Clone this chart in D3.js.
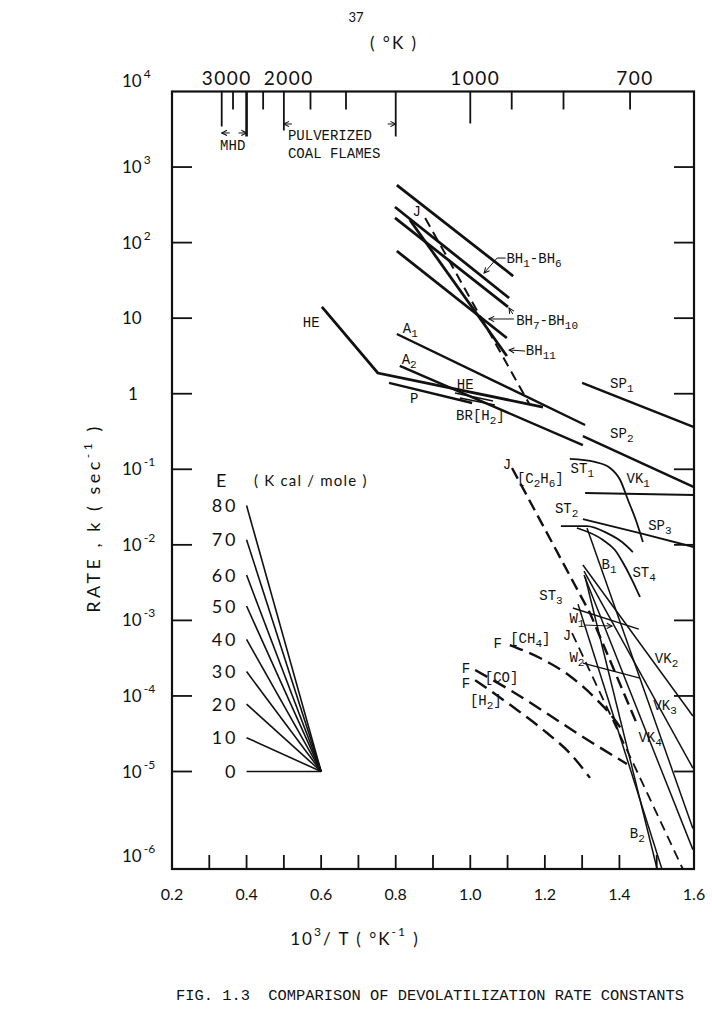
<!DOCTYPE html>
<html>
<head>
<meta charset="utf-8">
<script src="https://cdn.jsdelivr.net/npm/d3@7"></script>
<style>
  body { margin: 0; background: #fff; }
  text { fill: #111; }
  .tw { font-family: "Liberation Mono", "DejaVu Sans Mono", monospace; font-size: 14px; }
  .rd { font-family: Lato, "DejaVu Sans", sans-serif; }
</style>
</head>
<body>
<svg id="chart" width="712" height="1009"></svg>
<script>
// ---- data (x = 10^3/T, k = rate in 1/s) ----
const xTickLabels = ["0.2", "0.4", "0.6", "0.8", "1.0", "1.2", "1.4", "1.6"];
const xTickValues = [0.2, 0.4, 0.6, 0.8, 1.0, 1.2, 1.4, 1.6];
const xMinorTicks = [0.3, 0.4, 0.5, 0.6, 0.7, 0.8, 0.9, 1.0, 1.1, 1.2, 1.3, 1.4, 1.5];
const yDecades = [4, 3, 2, 1, 0, -1, -2, -3, -4, -5, -6];
const topTemps = [3000, 2750, 2500, 2250, 2000, 1750, 1500, 1250, 1000, 900, 800, 700];
const topTempLabels = [3000, 2000, 1000, 700];

// activation energy fan, all meeting at (0.6, 1e-5)
const fanEnergies = [80, 70, 60, 50, 40, 30, 20, 10, 0];
const fanStartK = [0.0331, 0.0117, 0.00398, 0.00155, 5.6e-4, 2.1e-4, 7.8e-5, 2.8e-5, 1e-5];
const fanStartX = 0.4;
const fanEnd = [0.6, 1e-5];

// solid heavy lines
const bh1to6 = [[0.803, 578], [1.115, 36.1]];
const bh1to6b = [[0.798, 296], [1.104, 18.5]];
const bh7to10 = [[0.798, 212], [1.101, 14.1]];
const bh7to10b = [[0.803, 77.4], [1.098, 5.46]];
const bh11 = [[0.838, 199], [1.098, 3.16]];
const heLine = [[0.602, 14.1], [0.752, 1.88], [1.195, 0.667]];
const a1Line = [[0.803, 6.17], [1.308, 0.386]];
const a2Line = [[0.811, 2.33], [1.302, 0.209]];
const pLine = [[0.782, 1.39], [1.005, 0.753]];
const heShortA = [[0.959, 1.02], [1.061, 0.80]];
const heShortB = [[0.972, 0.877], [1.066, 0.708]];
const sp1 = [[1.300, 1.39], [1.600, 0.362]];
const sp2 = [[1.302, 0.275], [1.600, 0.0582]];

// lighter solid lines, lower right
const sp3 = [[1.302, 0.0219], [1.455, 0.0143], [1.600, 0.00935]];
const vk1 = [[1.308, 0.0485], [1.600, 0.0456]];
const st1 = [[1.267, 0.137], [1.334, 0.125], [1.375, 0.104], [1.402, 0.0721], [1.423, 0.0392], [1.444, 0.0213], [1.463, 0.0109]];
const st2 = [[1.243, 0.0177], [1.313, 0.0177], [1.367, 0.0143], [1.407, 0.0109], [1.436, 0.00803]];
const st4 = [[1.286, 0.0167], [1.356, 0.0116], [1.388, 0.00853], [1.410, 0.00574], [1.434, 0.00342], [1.455, 0.00204]];
const st3 = [[1.275, 1.46e-3], [1.452, 7.67e-4]];
const b1 = [[1.313, 0.0167], [1.597, 2.6e-6]];
const vk2 = [[1.302, 0.0054], [1.597, 5.42e-5]];
const vk3 = [[1.305, 0.0045], [1.597, 1.11e-5]];
const vk4 = [[1.305, 0.00398], [1.597, 1.58e-6]];
const b2 = [[1.308, 0.00375], [1.501, 1e-6]];
const b2b = [[1.289, 1.64e-3], [1.514, 1e-6]];
const w2 = [[1.302, 2.72e-4], [1.455, 1.72e-4]];

// dashed lines
const jTop = [[0.879, 212], [1.160, 0.708]];
const jC2H6 = [[1.112, 0.104], [1.321, 1.25e-3], [1.447, 4.24e-5]];
const jLow = [[1.273, 6.79e-4], [1.570, 1e-6]];
const fCH4 = [[1.106, 4.72e-4], [1.187, 3.18e-4], [1.267, 1.84e-4], [1.340, 8.83e-5], [1.388, 4.8e-5], [1.407, 3.53e-5]];
const fCO = [[1.013, 2.2e-4], [1.106, 1.2e-4], [1.200, 6.12e-5], [1.294, 3.04e-5], [1.420, 1.26e-5]];
const fH2 = [[1.013, 1.62e-4], [1.115, 7.13e-5], [1.206, 3.23e-5], [1.267, 1.75e-5], [1.321, 8.6e-6]];

// line labels: text ("_n" = subscript), x, k
const lineLabels = [
  ["HE", 0.551, 7.64], ["A_1", 0.819, 6.46], ["A_2", 0.816, 2.47], ["HE", 0.964, 1.154],
  ["P", 0.838, 0.753], ["BR[H_2]", 0.962, 0.449], ["J", 0.845, 227],
  ["BH_1-BH_6", 1.097, 54.2], ["BH_7-BH_10", 1.123, 8.11], ["BH_11", 1.149, 3.25],
  ["SP_1", 1.375, 1.18], ["SP_2", 1.375, 0.257], ["J", 1.087, 0.1007], ["[C_2H_6]", 1.125, 0.0664],
  ["ST_1", 1.269, 0.0885], ["VK_1", 1.419, 0.0652], ["ST_2", 1.227, 0.0261], ["SP_3", 1.477, 0.0157],
  ["B_1", 1.352, 0.00474], ["ST_4", 1.435, 0.00378], ["ST_3", 1.185, 0.00186], ["W_1", 1.266, 9.14e-4],
  ["J", 1.248, 5.5e-4], ["W_2", 1.266, 2.84e-4], ["VK_2", 1.495, 2.7e-4], ["VK_3", 1.491, 6.5e-5],
  ["VK_4", 1.451, 2.48e-5], ["B_2", 1.428, 2.1e-6], ["F", 1.062, 4.35e-4], ["[CH_4]", 1.107, 5.06e-4],
  ["F", 0.977, 2.03e-4], ["[CO]", 1.039, 1.54e-4], ["F", 0.977, 1.26e-4], ["[H_2]", 0.999, 7.57e-5]
];
// leader arrows: list of points, arrowhead at the last one
const leaders = [
  [[1.095, 62.5], [1.072, 62.5], [1.037, 39.6]],
  [[1.117, 9.75], [1.050, 9.75]],
  [[1.114, 11.35], [1.104, 13.6]],
  [[1.147, 3.67], [1.104, 3.79]],
  [[1.308, 8.67e-4], [1.380, 8.42e-4]]
];

// ---- scales ----
const svg = d3.select("#chart");
const x = d3.scaleLinear().domain([0.2, 1.6]).range([172, 694]);
// the bottom decade of the drafted sheet is stretched down to the frame
const y = d3.scaleLog().domain([1e-6, 1e-5, 1e4]).range([869, 771.5, 91.5]);
const x0 = x(0.2), x1 = x(1.6), y0 = y(1e-6), y1 = y(1e4);

svg.append("defs").append("marker")
  .attr("id", "arr").attr("viewBox", "0 0 8 8").attr("refX", 7).attr("refY", 4)
  .attr("markerWidth", 7).attr("markerHeight", 7).attr("orient", "auto")
  .attr("markerUnits", "userSpaceOnUse")
  .append("path").attr("d", "M1,1 L7,4 L1,7").attr("fill", "none")
  .attr("stroke", "#111").attr("stroke-width", 1.2);

// frame
svg.append("rect").attr("x", x0).attr("y", y1).attr("width", x1 - x0).attr("height", y0 - y1)
  .attr("fill", "none").attr("stroke", "#111").attr("stroke-width", 2.2);

// y ticks, both sides
const yt = svg.append("g").attr("stroke", "#111").attr("stroke-width", 1.8);
yDecades.filter(d => d > -6 && d < 4).forEach(d => {
  const py = y(Math.pow(10, d));
  yt.append("line").attr("x1", x0).attr("x2", x0 + 20).attr("y1", py).attr("y2", py);
  yt.append("line").attr("x1", x1 - 20).attr("x2", x1).attr("y1", py).attr("y2", py);
});
yDecades.forEach(d => {
  let py = y(Math.pow(10, d)) + 6;
  if (d === 4) py -= 11;
  if (d === -6) py -= 13;
  const t = svg.append("text").attr("class", "rd").attr("font-size", 17)
    .attr("x", d === 0 ? 128 : 122).attr("y", py);
  if (d === 0) { t.text("1"); return; }
  t.append("tspan").text("10");
  if (d !== 1) t.append("tspan").attr("font-size", 12).attr("dy", -9).attr("dx", 2)
    .text(d < 0 ? "-" + (-d) : String(d));
});

// bottom ticks and labels
xMinorTicks.forEach(v => {
  svg.append("line").attr("x1", x(v)).attr("x2", x(v)).attr("y1", y0).attr("y2", y0 - 14)
    .attr("stroke", "#111").attr("stroke-width", 1.8);
});
xTickValues.forEach((v, i) => {
  svg.append("text").attr("class", "rd").attr("font-size", 16).attr("text-anchor", "middle")
    .attr("x", x(v)).attr("y", y0 + 31).text(xTickLabels[i]);
});

// top temperature ticks
const longTick = { 3000: 35, 2500: 45, 2000: 39, 1250: 45, 1000: 32 };
topTemps.forEach(T => {
  const px = x(1000 / T);
  svg.append("line").attr("x1", px).attr("x2", px).attr("y1", y1).attr("y2", y1 + (longTick[T] || 18))
    .attr("stroke", "#111").attr("stroke-width", T === 2500 ? 2.6 : 1.8);
});
topTempLabels.forEach(T => {
  svg.append("text").attr("class", "rd").attr("font-size", 19).attr("letter-spacing", 1.5)
    .attr("text-anchor", "middle").attr("x", x(1000 / T) + 5).attr("y", 85).text(T);
});

// MHD / pulverized coal flames ranges
const rangeArrow = (T, dir, k) => {
  const px = x(1000 / T), py = y(k);
  svg.append("line").attr("x1", px - dir * 8).attr("x2", px).attr("y1", py).attr("y2", py)
    .attr("stroke", "#111").attr("stroke-width", 1).attr("marker-end", "url(#arr)");
};
rangeArrow(3000, -1, 2826); rangeArrow(2500, 1, 2826);
rangeArrow(2000, -1, 3715); rangeArrow(1250, 1, 3715);
const small = (s, lx, lk) => svg.append("text").attr("class", "tw").attr("font-size", 11)
  .attr("x", x(lx)).attr("y", y(lk)).text(s);
small("MHD", 0.329, 1683);
small("PULVERIZED", 0.511, 2280);
small("COAL FLAMES", 0.511, 1318);

// data lines
const straight = d3.line().x(d => x(d[0])).y(d => y(d[1]));
const smooth = d3.line().curve(d3.curveMonotoneX).x(d => x(d[0])).y(d => y(d[1]));
function draw(data, w, dash, gen) {
  svg.append("path").datum(data).attr("d", gen || straight)
    .attr("fill", "none").attr("stroke", "#111").attr("stroke-width", w)
    .attr("stroke-dasharray", dash || null);
}
[bh1to6, bh1to6b, bh7to10, bh7to10b, bh11, heLine].forEach(d => draw(d, 2.8));
[a1Line, a2Line, pLine, sp1, sp2].forEach(d => draw(d, 2.4));
[heShortA, heShortB].forEach(d => draw(d, 1.6));
[sp3, vk1].forEach(d => draw(d, 2.0, null, smooth));
[st1, st2, st4].forEach(d => draw(d, 1.8, null, smooth));
[st3, b1, vk2, vk3, vk4, b2, b2b, w2].forEach(d => draw(d, 1.5));
draw(jTop, 2.0, "10,6");
draw(jC2H6, 2.4, "12,6");
draw(jLow, 1.8, "10,6");
[fCH4, fCO, fH2].forEach(d => draw(d, 2.4, "14,7", smooth));

// energy fan
fanEnergies.forEach((E, i) => {
  svg.append("line").attr("x1", x(fanStartX)).attr("y1", y(fanStartK[i]))
    .attr("x2", x(fanEnd[0])).attr("y2", y(fanEnd[1]))
    .attr("stroke", "#111").attr("stroke-width", 1.6);
  svg.append("text").attr("class", "rd").attr("font-size", 18).attr("letter-spacing", 3)
    .attr("text-anchor", "end").attr("x", x(fanStartX) - 8).attr("y", y(fanStartK[i]) + 6.5).text(E);
});
svg.append("text").attr("class", "rd").attr("font-size", 18).attr("x", 216).attr("y", 487).text("E");
svg.append("text").attr("class", "rd").attr("font-size", 15).attr("letter-spacing", 1.2)
  .attr("x", 254).attr("y", 486).text("( K cal / mole )");

// line labels
lineLabels.forEach(([s, lx, lk]) => {
  const t = svg.append("text").attr("class", "tw").attr("x", x(lx)).attr("y", y(lk));
  let low = false;
  s.split(/(_\d+)/).filter(p => p).forEach(p => {
    if (p[0] === "_") {
      t.append("tspan").attr("font-size", 11).attr("dy", low ? 0 : 4).text(p.slice(1));
      low = true;
    } else {
      t.append("tspan").attr("dy", low ? -4 : 0).text(p);
      low = false;
    }
  });
});
leaders.forEach(pts => {
  svg.append("path").datum(pts).attr("d", straight).attr("fill", "none")
    .attr("stroke", "#111").attr("stroke-width", 1).attr("marker-end", "url(#arr)");
});

// titles
svg.append("text").attr("class", "rd").attr("font-size", 13).attr("text-anchor", "middle")
  .attr("x", 356).attr("y", 22).text("37");
svg.append("text").attr("class", "rd").attr("font-size", 17).attr("letter-spacing", 2)
  .attr("text-anchor", "middle").attr("x", 394).attr("y", 49).text("( °K )");
const yl = svg.append("text").attr("class", "rd").attr("font-size", 18).attr("letter-spacing", 3.5)
  .attr("text-anchor", "middle").attr("transform", "translate(100,518) rotate(-90)");
yl.append("tspan").text("RATE , k ( sec");
yl.append("tspan").attr("font-size", 12).attr("dy", -8).text("-1");
yl.append("tspan").attr("dy", 8).text(" )");
const xl = svg.append("text").attr("class", "rd").attr("font-size", 17).attr("letter-spacing", 2)
  .attr("text-anchor", "middle").attr("x", 355).attr("y", 945);
xl.append("tspan").text("10");
xl.append("tspan").attr("font-size", 12).attr("dy", -9).text("3");
xl.append("tspan").attr("dy", 9).text("/ T ( °K");
xl.append("tspan").attr("font-size", 12).attr("dy", -9).text("-1");
xl.append("tspan").attr("dy", 9).text(" )");
svg.append("text").attr("font-family", "'Liberation Mono', 'DejaVu Sans Mono', monospace")
  .attr("font-size", 15.4).attr("x", 176).attr("y", 1000).style("white-space", "pre")
  .text("FIG. 1.3  COMPARISON OF DEVOLATILIZATION RATE CONSTANTS");
</script>
</body>
</html>
